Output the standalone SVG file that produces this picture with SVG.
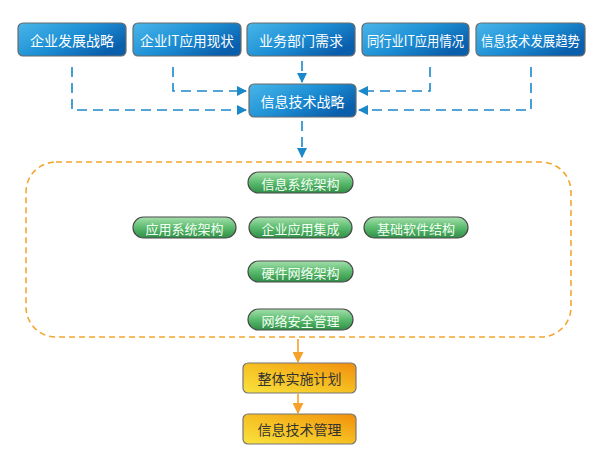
<svg xmlns="http://www.w3.org/2000/svg" width="603" height="464" viewBox="0 0 603 464">
<defs>
<linearGradient id="gBlue" x1="0" y1="0" x2="1" y2="0.6">
<stop offset="0" stop-color="#49b6ea"/>
<stop offset="0.55" stop-color="#1d8fd4"/>
<stop offset="1" stop-color="#0a5fad"/>
</linearGradient>
<linearGradient id="gGreen" x1="0" y1="0" x2="0" y2="1">
<stop offset="0" stop-color="#a6e0ad"/>
<stop offset="0.5" stop-color="#5bbb6e"/>
<stop offset="1" stop-color="#2f8f47"/>
</linearGradient>
<linearGradient id="gOrange" x1="0" y1="1" x2="1" y2="0">
<stop offset="0" stop-color="#f9e33f"/>
<stop offset="0.5" stop-color="#f6bf22"/>
<stop offset="1" stop-color="#f18e0c"/>
</linearGradient>
<marker id="aBlue" viewBox="0 0 10 10" refX="9" refY="5" markerWidth="10" markerHeight="10" markerUnits="userSpaceOnUse" orient="auto">
<path d="M0,0 L10,5 L0,10 Z" fill="#1a88c9"/>
</marker>
<marker id="aOrange" viewBox="0 0 10 10" refX="9" refY="5" markerWidth="11" markerHeight="11" markerUnits="userSpaceOnUse" orient="auto">
<path d="M0,0 L10,5 L0,10 Z" fill="#f5a12a"/>
</marker>
</defs>
<style>
.blue{fill:url(#gBlue);stroke:#6b6b6b;stroke-width:1.2}
.green{fill:url(#gGreen);stroke:#4a4a4a;stroke-width:1.2}
.orange{fill:url(#gOrange);stroke:#777;stroke-width:1.2}
.tw{font-family:"Noto Sans CJK SC","Liberation Sans",sans-serif;font-size:14px;fill:#fff;text-anchor:middle;dominant-baseline:central}
.tg{font-family:"Noto Sans CJK SC","Liberation Sans",sans-serif;font-size:13px;fill:#f4fff4;text-anchor:middle;dominant-baseline:central}
.to{font-family:"Noto Sans CJK SC","Liberation Sans",sans-serif;font-size:14px;fill:#333;text-anchor:middle;dominant-baseline:central}
.cb{fill:none;stroke:#1a88c9;stroke-width:1.6;stroke-dasharray:10,6}
.co{fill:none;stroke:#f5a12a;stroke-width:1.6}
</style>
<rect x="26" y="162" width="545" height="175" rx="30" fill="none" stroke="#f5a631" stroke-width="1.6" stroke-dasharray="6,4"/>
<g id="connectors">
<polyline class="cb" points="72,67 72,110 246,110" marker-end="url(#aBlue)"/>
<polyline class="cb" points="173,67 173,91 246,91" marker-end="url(#aBlue)"/>
<polyline class="cb" points="302,61 302,82" marker-end="url(#aBlue)"/>
<polyline class="cb" points="430,67 430,91 359,91" marker-end="url(#aBlue)"/>
<polyline class="cb" points="531,67 531,110 359,110" marker-end="url(#aBlue)"/>
<polyline class="cb" points="302,121 302,157" marker-end="url(#aBlue)"/>
<polyline class="co" points="298,339 298,362" marker-end="url(#aOrange)"/>
<polyline class="co" points="298,394 298,413" marker-end="url(#aOrange)"/>
</g>
<g id="n1"><rect class="blue" x="18" y="23" width="108" height="33" rx="5"/><text class="tw" x="72" y="40">企业发展战略</text></g>
<g id="n2"><rect class="blue" x="133" y="23" width="108" height="33" rx="5"/><text class="tw" x="187" y="40" textLength="94" lengthAdjust="spacingAndGlyphs">企业IT应用现状</text></g>
<g id="n3"><rect class="blue" x="247" y="23" width="108" height="33" rx="5"/><text class="tw" x="301" y="40">业务部门需求</text></g>
<g id="n4"><rect class="blue" x="362" y="23" width="107" height="33" rx="5"/><text class="tw" x="415.5" y="40" textLength="97" lengthAdjust="spacingAndGlyphs">同行业IT应用情况</text></g>
<g id="n5"><rect class="blue" x="476" y="23" width="109" height="33" rx="5"/><text class="tw" x="530.5" y="40" textLength="99" lengthAdjust="spacingAndGlyphs">信息技术发展趋势</text></g>
<g id="n6"><rect class="blue" x="249" y="84" width="107" height="33" rx="5"/><text class="tw" x="302.5" y="101">信息技术战略</text></g>
<g id="g1"><rect class="green" x="248" y="172" width="105" height="21" rx="10.5"/><text class="tg" x="300.5" y="183">信息系统架构</text></g>
<g id="g2"><rect class="green" x="133" y="217" width="103" height="21" rx="10.5"/><text class="tg" x="184.5" y="228">应用系统架构</text></g>
<g id="g3"><rect class="green" x="249" y="217" width="103" height="21" rx="10.5"/><text class="tg" x="300.5" y="228">企业应用集成</text></g>
<g id="g4"><rect class="green" x="364" y="217" width="104" height="21" rx="10.5"/><text class="tg" x="416" y="228">基础软件结构</text></g>
<g id="g5"><rect class="green" x="248" y="261" width="105" height="21" rx="10.5"/><text class="tg" x="300.5" y="272">硬件网络架构</text></g>
<g id="g6"><rect class="green" x="248" y="309" width="105" height="21" rx="10.5"/><text class="tg" x="300.5" y="320">网络安全管理</text></g>
<g id="o1"><rect class="orange" x="243" y="363" width="113" height="30" rx="5"/><text class="to" x="299.5" y="378">整体实施计划</text></g>
<g id="o2"><rect class="orange" x="243" y="414" width="113" height="30" rx="5"/><text class="to" x="299.5" y="429">信息技术管理</text></g>
</svg>
